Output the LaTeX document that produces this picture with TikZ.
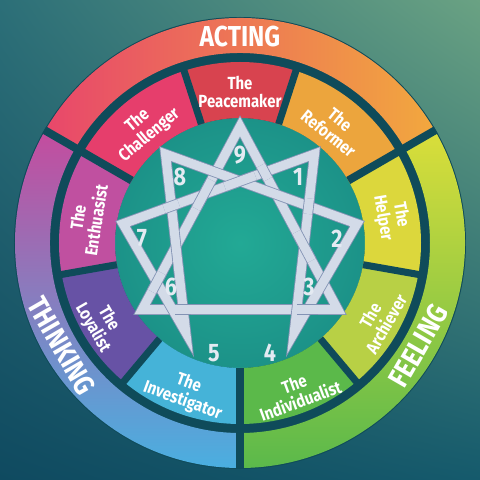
\documentclass[tikz,border=0pt]{standalone}
\usepackage{fontspec}
\setmainfont{Fira Sans}
\newfontfamily\condfont{Fira Sans}[FakeStretch=0.85]
\usetikzlibrary{calc,intersections,shadings}
\definecolor{bgUL}{HTML}{2C6F78}
\definecolor{bgUR}{HTML}{6AA283}
\definecolor{bgLL}{HTML}{0F4A60}
\definecolor{bgLR}{HTML}{155A6C}
\definecolor{ringbg}{HTML}{0F4B5A}
\definecolor{discIn}{HTML}{22A995}
\definecolor{discMid}{HTML}{1C9288}
\definecolor{discOut}{HTML}{156C78}
\definecolor{actL}{HTML}{E8476B}
\definecolor{actM}{HTML}{EE7458}
\definecolor{actR}{HTML}{F2A83E}
\definecolor{feelT}{HTML}{DADE3A}
\definecolor{feelB}{HTML}{5BB94B}
\definecolor{thinkT}{HTML}{C44C9E}
\definecolor{thinkM}{HTML}{6E56AC}
\definecolor{thinkB}{HTML}{4AAFE0}
\definecolor{peaC}{HTML}{D8434F}
\definecolor{chaC}{HTML}{E63E6C}
\definecolor{refC}{HTML}{ECA53D}
\definecolor{helC}{HTML}{DCD73C}
\definecolor{achC}{HTML}{B8D045}
\definecolor{indC}{HTML}{5BB94A}
\definecolor{invC}{HTML}{45B3D8}
\definecolor{loyC}{HTML}{6752A5}
\definecolor{entC}{HTML}{C050A0}
\definecolor{barEdge}{HTML}{8393B4}
\definecolor{barFill}{HTML}{D3DBE8}
\definecolor{numC}{HTML}{E4EAF2}
\pgfdeclareradialshading{discshade}{\pgfpoint{0bp}{0bp}}{color(0bp)=(discIn); color(25bp)=(discMid); color(50bp)=(discOut)}
\begin{document}
\begin{tikzpicture}[x=0.025cm,y=0.025cm,
  segtxt/.style={text=white, font=\condfont\bfseries\fontsize{12.5}{13}\selectfont, align=center, inner sep=0pt},
  ringtxt/.style={text=white, font=\condfont\bfseries\fontsize{20.5}{21}\selectfont, inner sep=0pt},
  numtxt/.style={text=numC, font=\condfont\bfseries\fontsize{18}{18}\selectfont, inner sep=0pt},
  starbar/.style={draw=barEdge, line width=0.6pt, double=barFill, double distance=6.4pt, line join=miter},
  gapline/.style={draw=ringbg, line width=5pt},
  outgap/.style={draw=ringbg, line width=5.7pt}]
\useasboundingbox (-240,-237) rectangle (240,243);
\shade[upper left=bgUL, upper right=bgUR, lower left=bgLL, lower right=bgLR] (-240,-237) rectangle (240,243);
% dark base disc
\fill[ringbg] (0,0) circle (226);
% outer ring
\shade[left color=actL, middle color=actM, right color=actR]
  (30:190) arc[start angle=30,end angle=150,radius=190] -- (150:225) arc[start angle=150,end angle=30,radius=225] -- cycle;
\shade[top color=feelT, bottom color=feelB]
  (-90:190) arc[start angle=-90,end angle=30,radius=190] -- (30:225) arc[start angle=30,end angle=-90,radius=225] -- cycle;
\shade[top color=thinkT, middle color=thinkM, bottom color=thinkB]
  (150:190) arc[start angle=150,end angle=270,radius=190] -- (270:225) arc[start angle=270,end angle=150,radius=225] -- cycle;
% inner disc
\shade[shading=discshade] (0,0) circle (125);
% inner segments
\foreach \a/\b/\c in {30/72/refC, 72/108/peaC, 108/150/chaC, 150/190/entC, 190/230/loyC, 230/270/invC, 270/310/indC, 310/350/achC, -10/30/helC}
  \fill[\c] (\a:125) arc[start angle=\a,end angle=\b,radius=125] -- (\b:181) arc[start angle=\b,end angle=\a,radius=181] -- cycle;
\foreach \g in {72,108,190,230,310,350}
  \draw[gapline] (\g:125) -- (\g:186);
\foreach \g in {30,150,270}
  \draw[outgap] (\g:125) -- (\g:226);
% ring labels
\node[ringtxt] (acting) at (90:206) {ACTING};
\node[ringtxt, rotate=60] (feeling) at (-30:206) {FEELING};
\node[ringtxt, rotate=-60] (thinking) at (-150:206) {THINKING};
% segment labels
\node[segtxt] (t9) at (90:151) {The\\Peacemaker};
\node[segtxt, rotate=40] (t8) at (130:150) {The\\Challenger};
\node[segtxt, rotate=-39] (t1) at (51:150) {The\\Reformer};
\node[segtxt, rotate=-80] (t2) at (10:154) {The\\Helper};
\node[segtxt, rotate=60] (t3) at (-29:158) {The\\Archiever};
\node[segtxt, rotate=20] (t4) at (-69:160) {The\\Individualist};
\node[segtxt, rotate=-20] (t5) at (-110:159) {The\\Investigator};
\node[segtxt, rotate=-60] (t6) at (-150:161) {The\\Loyalist};
\node[segtxt, rotate=81] (t7) at (171:155) {The\\Enthuasist};
% star vertices (bar centre lines)
\coordinate (C9) at (0,116.4);
\coordinate (C3) at (97.8,-66.5);
\coordinate (C6) at (-97.8,-66.5);
\coordinate (C1) at (74.5,88.9);
\coordinate (C2) at (117.0,19.2);
\coordinate (C4) at (54.2,-89.5);
\coordinate (C5) at (-54.2,-89.5);
\coordinate (C7) at (-117.0,19.2);
\coordinate (C8) at (-74.5,88.9);
\draw[starbar] (C9) -- (C3) -- (C6) -- cycle;
\draw[starbar] (C1) -- (C4) -- (C2) -- (C8) -- (C5) -- (C7) -- cycle;
\path[name path=e93] (C9) -- (C3);
\path[name path=e36] (C3) -- (C6);
\path[name path=e69] (C6) -- (C9);
\path[name path=e14] (C1) -- (C4);
\path[name path=e42] (C4) -- (C2);
\path[name path=e28] (C2) -- (C8);
\path[name path=e85] (C8) -- (C5);
\path[name path=e57] (C5) -- (C7);
\path[name path=e71] (C7) -- (C1);
\path[name intersections={of=e93 and e71, by=k1}];
\path[name intersections={of=e93 and e14, by=k2}];
\path[name intersections={of=e36 and e42, by=k3}];
\path[name intersections={of=e36 and e85, by=k4}];
\path[name intersections={of=e69 and e57, by=k5}];
\path[name intersections={of=e69 and e71, by=k6}];
\path[name intersections={of=e14 and e28, by=k7}];
\path[name intersections={of=e71 and e28, by=k8}];
\path[name intersections={of=e71 and e85, by=k9}];
\draw[starbar] ($(k1)!5.5pt!(C9)$) -- ($(k1)!5.5pt!(C3)$);
\draw[starbar] ($(k2)!11.5pt!(C9)$) -- ($(k2)!11.5pt!(C3)$);
\draw[starbar] ($(k3)!7.5pt!(C3)$) -- ($(k3)!7.5pt!(C6)$);
\draw[starbar] ($(k4)!5.5pt!(C3)$) -- ($(k4)!5.5pt!(C6)$);
\draw[starbar] ($(k5)!7.5pt!(C6)$) -- ($(k5)!7.5pt!(C9)$);
\draw[starbar] ($(k6)!11.5pt!(C6)$) -- ($(k6)!11.5pt!(C9)$);
\draw[starbar] ($(k7)!5.5pt!(C1)$) -- ($(k7)!5.5pt!(C4)$);
\draw[starbar] ($(k8)!11.5pt!(C7)$) -- ($(k8)!11.5pt!(C1)$);
\draw[starbar] ($(k9)!5.5pt!(C7)$) -- ($(k9)!5.5pt!(C1)$);
% numbers
\node[numtxt] (n9) at (0,88) {9};
\node[numtxt] (n8) at (-60,66) {8};
\node[numtxt] (n1) at (58,66) {1};
\node[numtxt] (n7) at (-98,5) {7};
\node[numtxt] (n2) at (97,4) {2};
\node[numtxt] (n6) at (-69,-44) {6};
\node[numtxt] (n3) at (69,-44) {3};
\node[numtxt] (n5) at (-26,-110) {5};
\node[numtxt] (n4) at (30,-110) {4};
\end{tikzpicture}
\end{document}
